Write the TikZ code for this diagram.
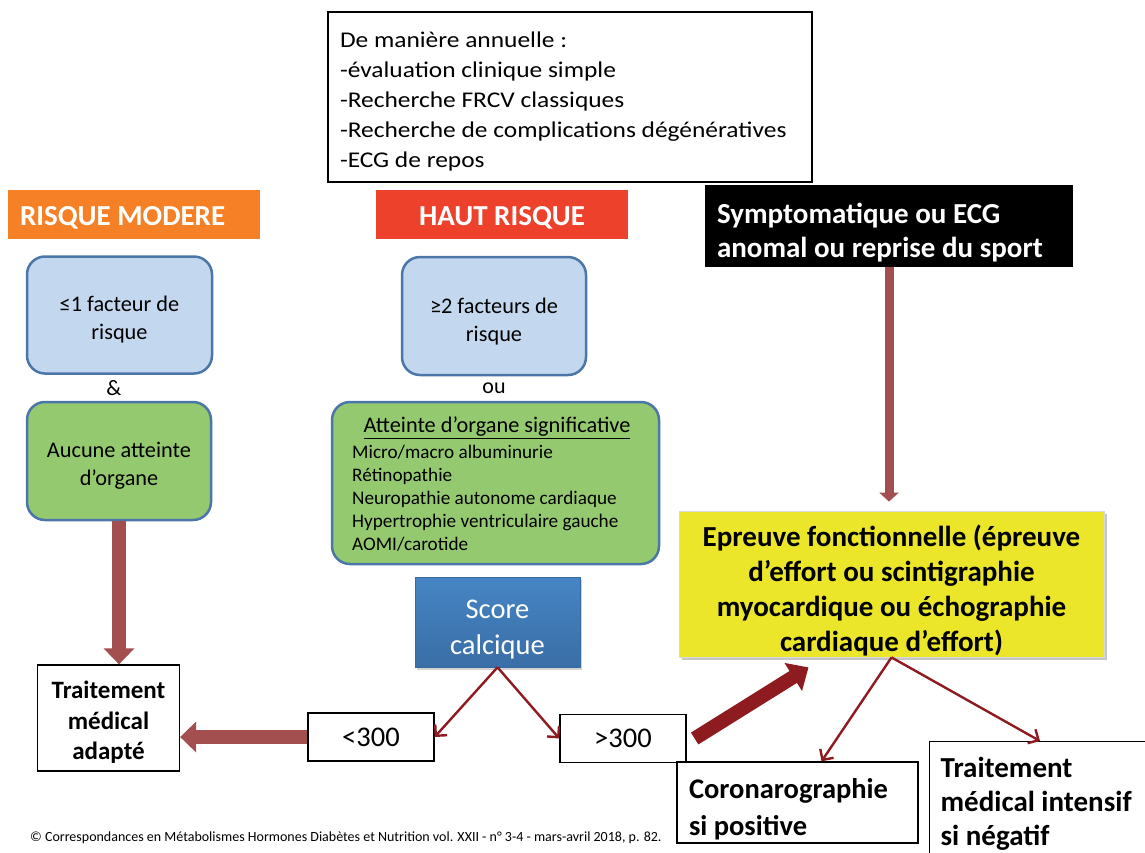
\documentclass[tikz,border=0pt]{standalone}
\usepackage{fontspec}
\setmainfont{Carlito}
\newfontfamily\topfont{Carlito}[FakeStretch=1.13]
\usetikzlibrary{arrows.meta,shadows,calc}
\definecolor{hdrorange}{HTML}{F58025}
\definecolor{hdrred}{HTML}{EE412C}
\definecolor{bluefill}{HTML}{C3D8EE}
\definecolor{blueline}{HTML}{4A76A8}
\definecolor{greenfill}{HTML}{95C96F}
\definecolor{yellowfill}{HTML}{EBE62A}
\definecolor{scoretop}{HTML}{4685C4}
\definecolor{scorebot}{HTML}{3A6EA6}
\definecolor{brownarrow}{HTML}{A34F4F}
\definecolor{darkred}{HTML}{8E1B1F}
\newcommand\dn[1]{\rule{0pt}{\dimexpr0.76em+#1\relax}}
\begin{document}
\begin{tikzpicture}[x=1pt,y=-1pt,
  every node/.style={execute at begin node={\spaceskip=0pt\xspaceskip=0pt}},
  plainbox/.style={draw=black, line width=1.3pt, fill=white, inner sep=0pt},
  hdr/.style={font=\fontsize{29}{34}\selectfont\bfseries, text=white, minimum width=252pt, minimum height=49pt, inner sep=0pt},
  rbox/.style={rounded corners=18pt, draw=blueline, line width=2.5pt, inner sep=0pt, align=center, font=\fontsize{22.3}{28}\selectfont},
  bigbrown/.style={draw=brownarrow, line width=14pt, -{Triangle[length=16pt,width=30pt]}},
  medbrown/.style={draw=brownarrow, line width=9pt, -{Triangle[length=9pt,width=19pt]}},
  bigred/.style={draw=darkred, line width=14pt, -{Triangle[length=18pt,width=32pt]}},
  thinred/.style={draw=darkred, line width=2.4pt, -{Straight Barb[length=8pt,width=16pt]}}
]
\useasboundingbox (0,0) rectangle (1145,852);
\clip (0,0) rectangle (1145,852);

% top box
\node[plainbox, minimum width=484pt, minimum height=170pt, text width=460pt, align=left,
      font=\topfont\fontsize{22.5}{30}\selectfont] (top) at (570,97)
  {\dn{8pt}De manière annuelle :\\-évaluation clinique simple\\-Recherche FRCV classiques\\-Recherche de complications dégénératives\\-ECG de repos};

% headers
\node[hdr, fill=hdrorange, text width=228pt, align=left] (hmod) at (134,214.5) {\dn{4pt}RISQUE MODERE};
\node[hdr, fill=hdrred] (haut) at (502,214.5) {\dn{4pt}HAUT RISQUE};

% black box
\node[fill=black, text=white, minimum width=368pt, minimum height=82pt, text width=344pt, align=left,
      inner sep=0pt, font=\fontsize{29}{34}\selectfont\bfseries] (sympt) at (889,226)
  {\dn{11pt}Symptomatique ou ECG\\anomal ou reprise du sport};

% left column
\node[rbox, fill=bluefill, minimum width=185pt, minimum height=117pt] (blue1) at (119.5,315)
  {\dn{8pt}≤1 facteur de\\risque};
\node[font=\fontsize{22}{28}\selectfont] (amp) at (114,388) {\&};
\node[rbox, fill=greenfill, minimum width=184pt, minimum height=118pt] (green1) at (119,461)
  {\dn{8pt}Aucune atteinte\\d’organe};

% middle column
\node[rbox, fill=bluefill, minimum width=184pt, minimum height=118pt] (blue2) at (494,316)
  {\dn{10pt}≥2 facteurs de\\risque};
\node[font=\fontsize{22}{28}\selectfont] (ou) at (494,388) {ou};
\node[rbox, fill=greenfill, minimum width=327pt, minimum height=162pt] (green2) at (495.5,483) {};
\node[font=\fontsize{22.3}{23}\selectfont, inner sep=0pt] (g2title) at (497,428) {\underline{Atteinte d’organe significative}};
\node[font=\fontsize{19.2}{23}\selectfont, inner sep=0pt, align=left, anchor=west] (g2items) at (352,498)
  {Micro/macro albuminurie\\Rétinopathie\\Neuropathie autonome cardiaque\\Hypertrophie ventriculaire gauche\\AOMI/carotide};

% score calcique
\node[top color=scoretop, bottom color=scorebot, draw=scoretop!80!black, line width=0.6pt,
      minimum width=165pt, minimum height=90pt, inner sep=0pt, text=white, align=center,
      font=\fontsize{28.5}{36}\selectfont,
      drop shadow={opacity=0.35, shadow xshift=1.5pt, shadow yshift=-2.5pt}] (score) at (497.5,622)
  {\dn{11pt}Score\\calcique};

% yellow box
\node[fill=yellowfill, draw=black!15, line width=0.8pt, minimum width=425pt, minimum height=146pt, inner sep=0pt, align=center,
      font=\fontsize{29}{35}\selectfont\bfseries,
      drop shadow={opacity=0.45, shadow xshift=2.5pt, shadow yshift=-3pt}] (yellow) at (891.5,584)
  {\dn{12pt}Epreuve fonctionnelle (épreuve\\d’effort ou scintigraphie\\myocardique ou échographie\\cardiaque d’effort)};

% bottom boxes
\node[plainbox, minimum width=142pt, minimum height=106pt, align=center,
      font=\fontsize{25}{30.5}\selectfont\bfseries] (trt1) at (108.5,718)
  {\dn{7pt}Traitement\\médical\\adapté};
\node[plainbox, minimum width=126pt, minimum height=48pt, font=\fontsize{28.5}{34}\selectfont] (lt300) at (371,737) {<300};
\node[plainbox, minimum width=126pt, minimum height=48pt, font=\fontsize{28.5}{34}\selectfont] (gt300) at (623,738.5) {>300};
\node[plainbox, minimum width=241pt, minimum height=81pt, text width=217pt, align=left,
      font=\fontsize{28.5}{37}\selectfont\bfseries] (coro) at (797.5,802.5)
  {\dn{12pt}Coronarographie\\si positive};
\node[plainbox, anchor=north west, text width=250pt, inner xsep=11pt, inner ysep=15pt, align=left,
      font=\fontsize{29}{34}\selectfont\bfseries] (intens) at (929,741)
  {Traitement\\médical intensif\\si négatif\\[10pt]};

% footer
\node[anchor=west, inner sep=0pt, font=\fontsize{14}{16}\selectfont] (foot) at (30,838)
  {© Correspondances en Métabolismes Hormones Diabètes et Nutrition vol. XXII - n° 3-4 - mars-avril 2018, p. 82.};

% connectors
\draw[bigbrown] (green1.south) -- (green1.south |- trt1.north);
\draw[bigbrown] (lt300.west) -- (lt300.west -| trt1.east);
\draw[thinred] (score.south) -- (lt300.east);
\draw[thinred] (score.south) -- (gt300.west);
\draw[medbrown, shorten >=9pt] (sympt.south) -- (sympt.south |- yellow.north);
\draw[bigred] ([xshift=8pt]gt300.east) -- ([xshift=-83pt,yshift=-10pt]yellow.south);
\draw[thinred] (yellow.south) -- ([xshift=24pt]coro.north);
\draw[thinred] (yellow.south) -- ([xshift=111pt]intens.north west);
\end{tikzpicture}
\end{document}
